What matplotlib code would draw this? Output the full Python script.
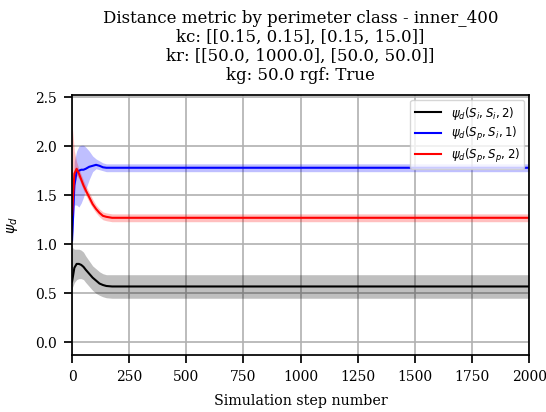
import matplotlib
matplotlib.use("Agg")
import matplotlib.pyplot as plt

plt.rcParams['font.family'] = 'DejaVu Serif'
plt.rcParams['mathtext.fontset'] = 'dejavusans'

steps = [0, 10, 20, 30, 40, 50, 60, 75, 90, 105, 120, 135, 150, 175, 200, 500, 1000, 1500, 2000]

ii_mean = [0.62, 0.76, 0.80, 0.80, 0.79, 0.77, 0.74, 0.70, 0.66, 0.63, 0.60, 0.585, 0.575, 0.57, 0.57, 0.57, 0.57, 0.57, 0.57]
ii_low = [0.55, 0.61, 0.64, 0.65, 0.65, 0.64, 0.61, 0.57, 0.53, 0.50, 0.48, 0.465, 0.455, 0.45, 0.45, 0.45, 0.45, 0.45, 0.45]
ii_high = [0.97, 0.95, 0.95, 0.95, 0.94, 0.92, 0.88, 0.83, 0.78, 0.75, 0.72, 0.70, 0.69, 0.69, 0.69, 0.69, 0.69, 0.69, 0.69]

pi_mean = [1.04, 1.60, 1.74, 1.75, 1.76, 1.76, 1.77, 1.79, 1.80, 1.81, 1.80, 1.785, 1.78, 1.78, 1.78, 1.78, 1.78, 1.78, 1.78]
pi_low = [1.00, 1.40, 1.40, 1.38, 1.42, 1.48, 1.56, 1.66, 1.74, 1.77, 1.76, 1.75, 1.74, 1.74, 1.74, 1.74, 1.74, 1.74, 1.74]
pi_high = [1.10, 1.85, 1.95, 2.00, 2.01, 2.01, 1.99, 1.95, 1.90, 1.87, 1.85, 1.83, 1.82, 1.82, 1.82, 1.82, 1.82, 1.82, 1.82]

pp_mean = [1.30, 1.72, 1.77, 1.72, 1.66, 1.60, 1.55, 1.48, 1.41, 1.36, 1.32, 1.29, 1.28, 1.27, 1.27, 1.27, 1.27, 1.27, 1.27]
pp_low = [1.00, 1.55, 1.70, 1.67, 1.61, 1.55, 1.50, 1.43, 1.37, 1.32, 1.28, 1.25, 1.24, 1.23, 1.23, 1.23, 1.23, 1.23, 1.23]
pp_high = [2.23, 1.95, 1.84, 1.77, 1.71, 1.65, 1.60, 1.53, 1.46, 1.40, 1.36, 1.33, 1.32, 1.31, 1.31, 1.31, 1.31, 1.31, 1.31]

fig = plt.figure(figsize=(5.46, 4.12), dpi=100)
ax = fig.add_axes([0.132, 0.138, 0.837, 0.631])

ax.fill_between(steps, ii_low, ii_high, color='k', alpha=0.25, lw=0)
ax.plot(steps, ii_mean, color='k', lw=1.5, label=r'$\psi_d(S_i, S_i, 2)$')
ax.fill_between(steps, pi_low, pi_high, color='b', alpha=0.25, lw=0)
ax.plot(steps, pi_mean, color='b', lw=1.5, label=r'$\psi_d(S_p, S_i, 1)$')
ax.fill_between(steps, pp_low, pp_high, color='r', alpha=0.25, lw=0)
ax.plot(steps, pp_mean, color='r', lw=1.5, label=r'$\psi_d(S_p, S_p, 2)$')

ax.set_xlim(0, 2000)
ax.set_ylim(-0.13, 2.52)
ax.set_yticks([0.0, 0.5, 1.0, 1.5, 2.0, 2.5])
ax.grid(True, color='#b0b0b0', lw=1.2)
ax.set_axisbelow(True)
for s in ax.spines.values():
    s.set_linewidth(1.25)
ax.tick_params(width=1.25, length=6, pad=5, labelsize=10)

ax.set_xlabel('Simulation step number', fontsize=10.3, labelpad=7)
ax.set_ylabel(r'$\psi_d$', fontsize=10.3, labelpad=11)
ax.set_title('Distance metric by perimeter class - inner_400\n'
             'kc: [[0.15, 0.15], [0.15, 15.0]]\n'
             'kr: [[50.0, 1000.0], [50.0, 50.0]]\n'
             'kg: 50.0 rgf: True', fontsize=12, linespacing=1.15, pad=11)
ax.legend(loc='upper right', fontsize=8.5, labelspacing=0.3, handlelength=2.2,
          borderaxespad=0.4)

fig.savefig('out.png', dpi=100)
